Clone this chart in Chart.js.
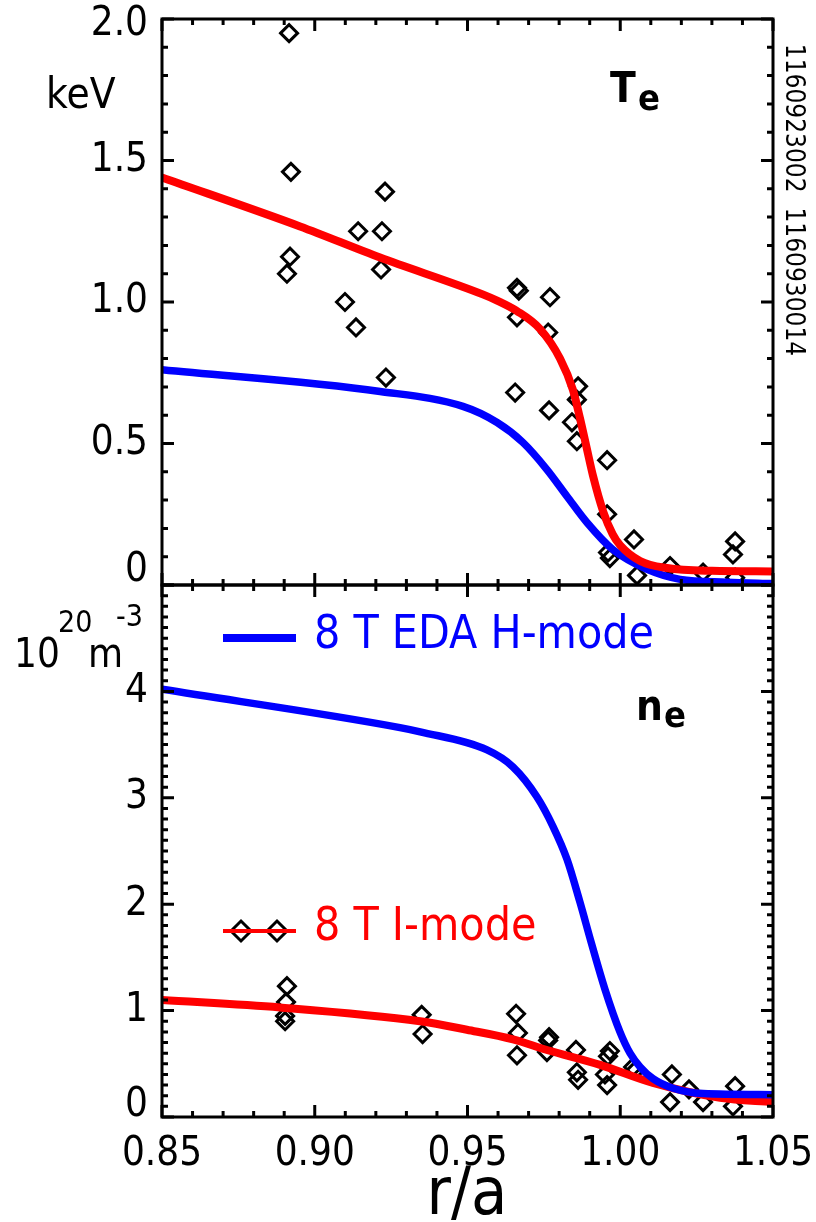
<!DOCTYPE html>
<html>
<head>
<meta charset="utf-8">
<title>Te and ne edge profiles</title>
<script src="https://cdn.jsdelivr.net/npm/chart.js@4/dist/chart.umd.min.js"></script>
<style>
  html, body { margin: 0; padding: 0; background: #fff; }
  #wrap { position: relative; width: 816px; height: 1222px; overflow: hidden; background: #fff; }
  #wrap canvas { position: absolute; left: 0; }
  #teChart { top: 0; }
  #neChart { top: 560px; }
</style>
</head>
<body>
<div id="wrap">
  <canvas id="teChart" width="816" height="600"></canvas>
  <canvas id="neChart" width="816" height="662"></canvas>
</div>
<script>
const FONT = '"DejaVu Sans Condensed", "DejaVu Sans", sans-serif';

// shared r/a axis
const xMin = 0.85;
const xMax = 1.05;
const xTickValues = [0.85, 0.90, 0.95, 1.00, 1.05];
const xTickLabels = ['0.85', '0.90', '0.95', '1.00', '1.05'];

const teTickValues = [0, 0.5, 1.0, 1.5, 2.0];
const teTickLabels = ['0', '0.5', '1.0', '1.5', '2.0'];
const neTickValues = [0, 1, 2, 3, 4];
const neTickLabels = ['0', '1', '2', '3', '4'];

// Te fits (keV)
const teImodeR = [0.85, 0.8952, 0.9214, 0.955, 0.9597, 0.9662, 0.9737, 0.9803, 0.9845, 0.9868, 0.9891, 0.9911, 0.9944, 0.9975, 1.0, 1.0065, 1.0153, 1.03, 1.05];
const teImode  = [1.44, 1.267, 1.157, 1.027, 1.005, 0.968, 0.905, 0.80, 0.69, 0.59, 0.48, 0.385, 0.26, 0.18, 0.14, 0.085, 0.06, 0.05, 0.048];
const teHmodeR = [0.85, 0.9214, 0.9485, 0.9597, 0.9682, 0.976, 0.9826, 0.9891, 0.9976, 1.0088, 1.0196, 1.035, 1.05];
const teHmode  = [0.761, 0.684, 0.631, 0.574, 0.503, 0.408, 0.313, 0.221, 0.125, 0.055, 0.02, 0.01, 0.005];

// Te Thomson points, I-mode shot
const teObsR = [0.8916, 0.8922, 0.8919, 0.8909, 0.9230, 0.9142, 0.9220, 0.9217, 0.9099, 0.9135, 0.9233,
                0.9662, 0.9668, 0.9770, 0.9662, 0.9764, 0.9656, 0.9767, 0.9862, 0.9858, 0.9842, 0.9858,
                0.9957, 0.9957, 0.9960, 0.9966, 1.0045, 1.0055, 1.0163, 1.0271, 1.0376, 1.0369, 1.0376];
const teObs  = [1.95, 1.46, 1.16, 1.10, 1.39, 1.25, 1.25, 1.115, 1.00, 0.91, 0.733,
                1.05, 1.04, 1.017, 0.946, 0.892, 0.680, 0.617, 0.702, 0.655, 0.575, 0.508,
                0.441, 0.25, 0.115, 0.095, 0.161, 0.034, 0.067, 0.044, 0.154, 0.108, 0.026];

// ne fits (1e20 m^-3)
const neHmodeR = [0.85, 0.9279, 0.9345, 0.9564, 0.9649, 0.9727, 0.978, 0.9826, 0.9868, 0.9905, 0.995, 0.9999, 1.0032, 1.0065, 1.0107, 1.0173, 1.0271, 1.05];
const neHmode  = [4.02, 3.66, 3.62, 3.45, 3.29, 3.01, 2.73, 2.42, 2.02, 1.64, 1.20, 0.80, 0.60, 0.47, 0.36, 0.27, 0.22, 0.21];
const neImodeR = [0.85, 0.8886, 0.9345, 0.9498, 0.9649, 0.976, 0.9934, 1.0107, 1.0327, 1.05];
const neImode  = [1.10, 1.03, 0.90, 0.82, 0.73, 0.63, 0.49, 0.32, 0.18, 0.14];

// ne Thomson points, I-mode shot
const neObsR = [0.8909, 0.8906, 0.8903, 0.8903, 0.9350, 0.9353, 0.9659, 0.9665, 0.9662, 0.9767, 0.9764, 0.9760,
                0.9855, 0.9858, 0.9862, 0.9966, 0.9960, 0.9950, 0.9957, 1.0042, 1.0050, 1.0169, 1.0163,
                1.0225, 1.0271, 1.0376, 1.0369];
const neObs  = [1.23, 1.08, 0.95, 0.90, 0.96, 0.78, 0.97, 0.79, 0.58, 0.75, 0.72, 0.61,
                0.63, 0.42, 0.35, 0.62, 0.57, 0.40, 0.30, 0.47, 0.44, 0.40, 0.14,
                0.26, 0.14, 0.29, 0.10];

const RED = '#ff0000';
const BLUE = '#0000ff';

function toXY(rs, vs) {
  return rs.map((r, i) => ({ x: r, y: vs[i] }));
}

function fitSet(rs, vs, color, width) {
  return {
    data: toXY(rs, vs),
    showLine: true,
    borderColor: color,
    borderWidth: width,
    pointRadius: 0,
    pointHoverRadius: 0,
    cubicInterpolationMode: 'monotone',
    fill: false
  };
}

function pointSet(rs, vs) {
  return {
    data: toXY(rs, vs),
    showLine: false,
    pointStyle: 'rectRot',
    pointRadius: 8.5,
    pointBorderWidth: 3,
    pointBorderColor: '#000',
    pointBackgroundColor: 'rgba(0,0,0,0)'
  };
}

function diamond(ctx, x, y, r) {
  ctx.beginPath();
  ctx.moveTo(x - r, y);
  ctx.lineTo(x, y - r);
  ctx.lineTo(x + r, y);
  ctx.lineTo(x, y + r);
  ctx.closePath();
  ctx.stroke();
}

// frame with inward ticks on all four sides, plus y tick labels
const framePlugin = {
  id: 'frame',
  afterDatasetsDraw(chart, args, o) {
    const ctx = chart.ctx;
    const a = chart.chartArea;
    const x = chart.scales.x;
    const y = chart.scales.y;
    ctx.save();
    ctx.strokeStyle = '#000';
    ctx.lineWidth = 3;
    ctx.strokeRect(a.left, a.top, a.right - a.left, a.bottom - a.top);

    ctx.beginPath();
    const nx = Math.round((xMax - xMin) / 0.01);
    for (let i = 0; i <= nx; i++) {
      const px = x.getPixelForValue(xMin + i * 0.01);
      const len = i % 5 === 0 ? 12 : 6;
      ctx.moveTo(px, a.top);
      ctx.lineTo(px, a.top + len);
      ctx.moveTo(px, a.bottom);
      ctx.lineTo(px, a.bottom - len);
    }
    const ny = Math.round((o.yMax - o.yMin) / o.minorStep);
    for (let i = 0; i <= ny; i++) {
      const py = y.getPixelForValue(o.yMin + i * o.minorStep);
      const len = i % o.minorPerMajor === 0 ? 12 : 6;
      ctx.moveTo(a.left, py);
      ctx.lineTo(a.left + len, py);
      ctx.moveTo(a.right, py);
      ctx.lineTo(a.right - len, py);
    }
    ctx.stroke();

    ctx.fillStyle = '#000';
    ctx.font = '40px ' + FONT;
    ctx.textAlign = 'right';
    ctx.textBaseline = 'middle';
    o.tickValues.forEach((v, i) => {
      const nudge = o.labelNudge[i] || 0;
      ctx.fillText(o.tickLabels[i], a.left - 14, y.getPixelForValue(v) + nudge);
    });
    ctx.restore();
  }
};

// free text, legend and decorations, in page coordinates
const notesPlugin = {
  id: 'notes',
  afterDraw(chart, args, o) {
    const ctx = chart.ctx;
    ctx.save();
    ctx.translate(0, -o.offsetTop);
    o.draw(ctx, chart);
    ctx.restore();
  }
};

function panel(canvasId, datasets, yMin, yMax, padding, frame, notes) {
  return new Chart(document.getElementById(canvasId), {
    type: 'scatter',
    data: { datasets },
    options: {
      responsive: false,
      animation: false,
      devicePixelRatio: 1,
      events: [],
      layout: { padding },
      scales: {
        x: { type: 'linear', min: xMin, max: xMax, display: false },
        y: { type: 'linear', min: yMin, max: yMax, display: false }
      },
      plugins: {
        legend: { display: false },
        tooltip: { enabled: false },
        frame,
        notes
      }
    },
    plugins: [framePlugin, notesPlugin]
  });
}

// Te panel
panel('teChart',
  [fitSet(teImodeR, teImode, RED, 8), fitSet(teHmodeR, teHmode, BLUE, 7.5), pointSet(teObsR, teObs)],
  0, 2.0,
  { left: 162, right: 43, top: 19, bottom: 15 },
  { yMin: 0, yMax: 2.0, minorStep: 0.1, minorPerMajor: 5,
    tickValues: teTickValues, tickLabels: teTickLabels, labelNudge: [-14, 0, 0, 0, 6] },
  { offsetTop: 0, draw(ctx) {
      ctx.fillStyle = '#000';
      ctx.textAlign = 'left';
      ctx.textBaseline = 'alphabetic';
      ctx.font = '42px ' + FONT;
      ctx.fillText('keV', 46, 108);

      ctx.font = 'bold 42px ' + FONT;
      ctx.fillText('T', 610, 102);
      ctx.font = 'bold 36px ' + FONT;
      ctx.fillText('e', 638, 110);

      ctx.save();
      ctx.translate(786, 200);
      ctx.rotate(Math.PI / 2);
      ctx.font = '26px ' + FONT;
      ctx.textAlign = 'center';
      ctx.textBaseline = 'alphabetic';
      ctx.fillText('1160923002  1160930014', 0, 0);
      ctx.restore();
  } }
);

// ne panel
panel('neChart',
  [fitSet(neHmodeR, neHmode, BLUE, 7.5), fitSet(neImodeR, neImode, RED, 8), pointSet(neObsR, neObs)],
  0, 5.0,
  { left: 162, right: 43, top: 25, bottom: 105 },
  { yMin: 0, yMax: 5.0, minorStep: 0.1, minorPerMajor: 10,
    tickValues: neTickValues, tickLabels: neTickLabels, labelNudge: [-11, 0, 0, 0, 0] },
  { offsetTop: 560, draw(ctx, chart) {
      const x = chart.scales.x;
      ctx.fillStyle = '#000';
      ctx.font = '40px ' + FONT;
      ctx.textAlign = 'center';
      ctx.textBaseline = 'middle';
      xTickValues.forEach((v, i) => {
        ctx.fillText(xTickLabels[i], x.getPixelForValue(v), 1155);
      });

      ctx.textBaseline = 'alphabetic';
      ctx.font = '66px ' + FONT;
      ctx.fillText('r/a', 467, 1214);

      // density unit
      ctx.textAlign = 'left';
      ctx.font = '40px ' + FONT;
      ctx.fillText('10', 14, 667);
      ctx.fillText('m', 88, 667);
      ctx.font = '30px ' + FONT;
      ctx.fillText('20', 58, 632);
      ctx.fillText('-3', 116, 626);

      ctx.font = 'bold 42px ' + FONT;
      ctx.fillText('n', 636, 720);
      ctx.font = 'bold 36px ' + FONT;
      ctx.fillText('e', 664, 727);

      // legend
      ctx.lineCap = 'butt';
      ctx.strokeStyle = BLUE;
      ctx.lineWidth = 8;
      ctx.beginPath();
      ctx.moveTo(223, 638);
      ctx.lineTo(296, 638);
      ctx.stroke();
      ctx.fillStyle = BLUE;
      ctx.font = '46px ' + FONT;
      ctx.fillText('8 T EDA H-mode', 314, 648);

      ctx.strokeStyle = '#000';
      ctx.lineWidth = 3;
      diamond(ctx, 241, 931, 10);
      diamond(ctx, 277, 931, 10);
      ctx.strokeStyle = RED;
      ctx.lineWidth = 4;
      ctx.beginPath();
      ctx.moveTo(223, 931);
      ctx.lineTo(296, 931);
      ctx.stroke();
      ctx.fillStyle = RED;
      ctx.fillText('8 T I-mode', 314, 940);
  } }
);
</script>
</body>
</html>
